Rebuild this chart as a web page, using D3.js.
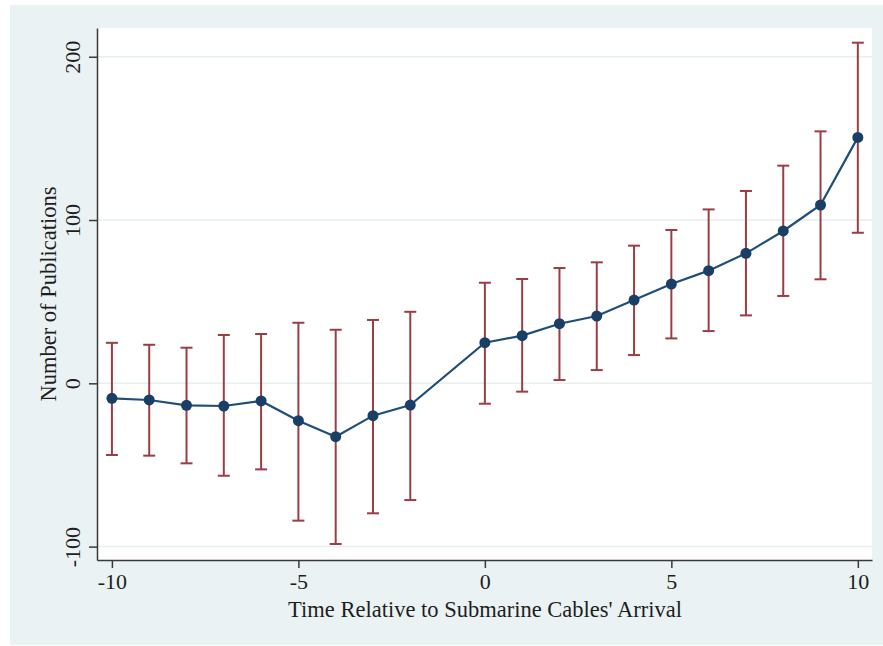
<!DOCTYPE html>
<html>
<head>
<meta charset="utf-8">
<script src="https://cdnjs.cloudflare.com/ajax/libs/d3/7.8.5/d3.min.js"></script>
<style>
    body { margin: 0; background: #ffffff; }
    .axis path, .axis line { stroke: #3a3a3a; stroke-width: 1.5; }
    .axis text { font-family: 'Liberation Serif', 'Times New Roman', serif; font-size: 22px; fill: #1e1e1e; }
    .title { font-family: 'Liberation Serif', 'Times New Roman', serif; font-size: 22.5px; fill: #1e1e1e; }
</style>
</head>
<body>
<div id="vis"></div>
<script>
// Event-study estimates: years relative to cable arrival (year -1 is the omitted baseline)
var periods = [-10, -9, -8, -7, -6, -5, -4, -3, -2, 0, 1, 2, 3, 4, 5, 6, 7, 8, 9, 10];
var estimates = [-9.2, -10.2, -13.5, -13.9, -10.8, -22.9, -32.7, -19.8, -13.3, 24.9, 29.2, 36.5, 41.2, 51.0, 60.8, 69.0, 79.6, 93.3, 109.2, 150.6];
var upperCI = [24.8, 23.6, 21.8, 29.6, 30.2, 37.1, 32.8, 38.8, 43.8, 61.6, 63.9, 70.6, 74.1, 84.3, 93.9, 106.5, 117.8, 133.3, 154.3, 208.6];
var lowerCI = [-43.9, -44.3, -49.0, -56.6, -52.7, -84.1, -98.4, -79.6, -71.5, -12.5, -5.1, 2.0, 8.1, 17.3, 27.5, 32.0, 41.6, 53.5, 63.7, 92.2];
var xTicks = [-10, -5, 0, 5, 10];
var yTicks = [-100, 0, 100, 200];

var data = periods.map(function(p, i) {
    return { t: p, b: estimates[i], hi: upperCI[i], lo: lowerCI[i] };
});

var width = 883;
var height = 646;

// plot region (white box inside the grey graph region)
var plot = { left: 97, right: 872, top: 28, bottom: 560 };

var svg = d3.select('#vis')
    .append('svg')
    .attr('width', width)
    .attr('height', height);

// grey graph background
svg.append('rect')
    .attr('x', 10).attr('y', 5)
    .attr('width', width - 10).attr('height', 640)
    .attr('fill', '#eaf2f3');

svg.append('rect')
    .attr('x', plot.left).attr('y', plot.top)
    .attr('width', plot.right - plot.left).attr('height', plot.bottom - plot.top)
    .attr('fill', '#ffffff');

var xScale = d3.scaleLinear()
    .domain([-10.4, 10.38])
    .range([plot.left, plot.right]);

var yScale = d3.scaleLinear()
    .domain([-108.2, 217.6])
    .range([plot.bottom, plot.top]);

// horizontal grid lines
svg.append('g').selectAll('line')
    .data(yTicks)
    .enter().append('line')
    .attr('x1', plot.left).attr('x2', plot.right)
    .attr('y1', function(d) { return yScale(d); })
    .attr('y2', function(d) { return yScale(d); })
    .attr('stroke', '#e6eff1')
    .attr('stroke-width', 1.5);

// plain hyphen-minus labels, like Stata
var plainFormat = function(d) { return String(d); };

// axes
var xAxis = d3.axisBottom(xScale)
    .tickValues(xTicks)
    .tickFormat(plainFormat)
    .tickSize(8)
    .tickSizeOuter(0)
    .tickPadding(5);

var yAxis = d3.axisLeft(yScale)
    .tickValues(yTicks)
    .tickFormat(plainFormat)
    .tickSize(8)
    .tickSizeOuter(0);

var xAxisG = svg.append('g')
    .attr('class', 'axis')
    .attr('transform', 'translate(0,' + plot.bottom + ')')
    .call(xAxis);
xAxisG.selectAll('text').attr('dy', '0.71em');

var yAxisG = svg.append('g')
    .attr('class', 'axis')
    .attr('transform', 'translate(' + plot.left + ',0)')
    .call(yAxis);

// Stata-style vertical y tick labels
yAxisG.selectAll('.tick text')
    .attr('x', null).attr('dy', null)
    .attr('text-anchor', 'middle')
    .attr('transform', 'translate(-17,0) rotate(-90)');

// axis titles
svg.append('text')
    .attr('class', 'title')
    .attr('text-anchor', 'middle')
    .attr('x', 485)
    .attr('y', 617)
    .text("Time Relative to Submarine Cables' Arrival");

svg.append('text')
    .attr('class', 'title')
    .attr('text-anchor', 'middle')
    .attr('transform', 'translate(56,' + ((plot.top + plot.bottom) / 2) + ') rotate(-90)')
    .text('Number of Publications');

// confidence interval caps
var barColor = '#9a3d44';
var capHalf = 6;
var bars = svg.append('g')
    .attr('stroke', barColor)
    .attr('stroke-width', 2);

bars.selectAll('.stem')
    .data(data)
    .enter().append('line')
    .attr('x1', function(d) { return xScale(d.t); })
    .attr('x2', function(d) { return xScale(d.t); })
    .attr('y1', function(d) { return yScale(d.lo); })
    .attr('y2', function(d) { return yScale(d.hi); });

bars.selectAll('.capHi')
    .data(data)
    .enter().append('line')
    .attr('x1', function(d) { return xScale(d.t) - capHalf; })
    .attr('x2', function(d) { return xScale(d.t) + capHalf; })
    .attr('y1', function(d) { return yScale(d.hi); })
    .attr('y2', function(d) { return yScale(d.hi); });

bars.selectAll('.capLo')
    .data(data)
    .enter().append('line')
    .attr('x1', function(d) { return xScale(d.t) - capHalf; })
    .attr('x2', function(d) { return xScale(d.t) + capHalf; })
    .attr('y1', function(d) { return yScale(d.lo); })
    .attr('y2', function(d) { return yScale(d.lo); });

// connected estimates
var line = d3.line()
    .x(function(d) { return xScale(d.t); })
    .y(function(d) { return yScale(d.b); });

svg.append('path')
    .datum(data)
    .attr('d', line)
    .attr('fill', 'none')
    .attr('stroke', '#1f4e79')
    .attr('stroke-width', 2.2);

svg.append('g').selectAll('circle')
    .data(data)
    .enter().append('circle')
    .attr('cx', function(d) { return xScale(d.t); })
    .attr('cy', function(d) { return yScale(d.b); })
    .attr('r', 5.5)
    .attr('fill', '#1a3f66');
</script>
</body>
</html>
